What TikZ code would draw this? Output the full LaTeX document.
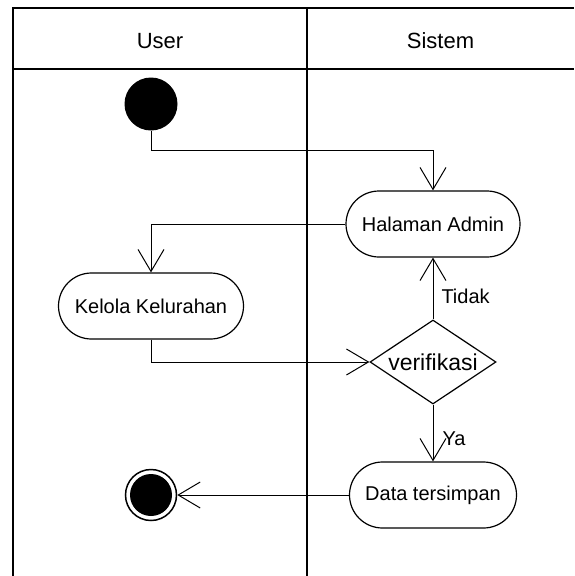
\documentclass[tikz,border=0pt]{standalone}
\usepackage{fontspec}
\setmainfont{Liberation Sans}
\usetikzlibrary{arrows.meta,shapes.geometric,shapes.misc}
\begin{document}
\begin{tikzpicture}[x=1pt,y=-1pt,
  every node/.style={font=\fontsize{20}{24}\selectfont},
  lane/.style={font=\fontsize{22}{26}\selectfont},
  act/.style={rounded rectangle, draw, line width=1.2pt, minimum height=66pt, inner sep=0pt},
  decision/.style={diamond, draw, line width=1.2pt, minimum width=126pt, minimum height=84pt, inner sep=0pt, aspect=1.5, font=\fontsize{23}{27}\selectfont},
  conn/.style={line width=1pt, -{Straight Barb[length=22pt,width=26pt,line width=1pt]}},
  frame/.style={line width=2pt}]
\useasboundingbox (0,0) rectangle (574,576);
% swimlane frame
\draw[frame] (13,8) -- (574,8);
\draw[frame] (13,69) -- (574,69);
\draw[frame] (13,7) -- (13,576);
\draw[frame] (307,7) -- (307,576);
\node[lane] (user) at (160,41) {User};
\node[lane] (sistem) at (440.5,41) {Sistem};
% nodes
\node[circle, fill, minimum size=53pt, inner sep=0pt] (start) at (151,104) {};
\node[act, minimum width=174pt] (hal) at (433,224) {Halaman Admin};
\node[act, minimum width=185pt] (kel) at (151,306) {Kelola Kelurahan};
\node[decision] (ver) at (433,362) {verifikasi};
\node[act, minimum width=167pt] (dat) at (433,495) {Data tersimpan};
\node[circle, draw, line width=1.5pt, minimum size=51pt, inner sep=0pt,
  path picture={\fill (path picture bounding box.center) circle (21pt);}] (fin) at (151,495) {};
% connectors
\draw[conn] (start.south) -- ++(0,20) -| (hal.north);
\draw[conn] (hal.west) -| (kel.north);
\draw[conn] (kel.south) |- (ver.west);
\draw[conn] (ver.north) -- node[pos=0.37, right=8pt, inner sep=0pt] (tidak) {Tidak} (hal.south);
\draw[conn] (ver.south) -- node[pos=0.6, right=9pt, inner sep=0pt] (ya) {Ya} (dat.north);
\draw[conn] (dat.west) -- (fin.east);
\end{tikzpicture}
\end{document}
